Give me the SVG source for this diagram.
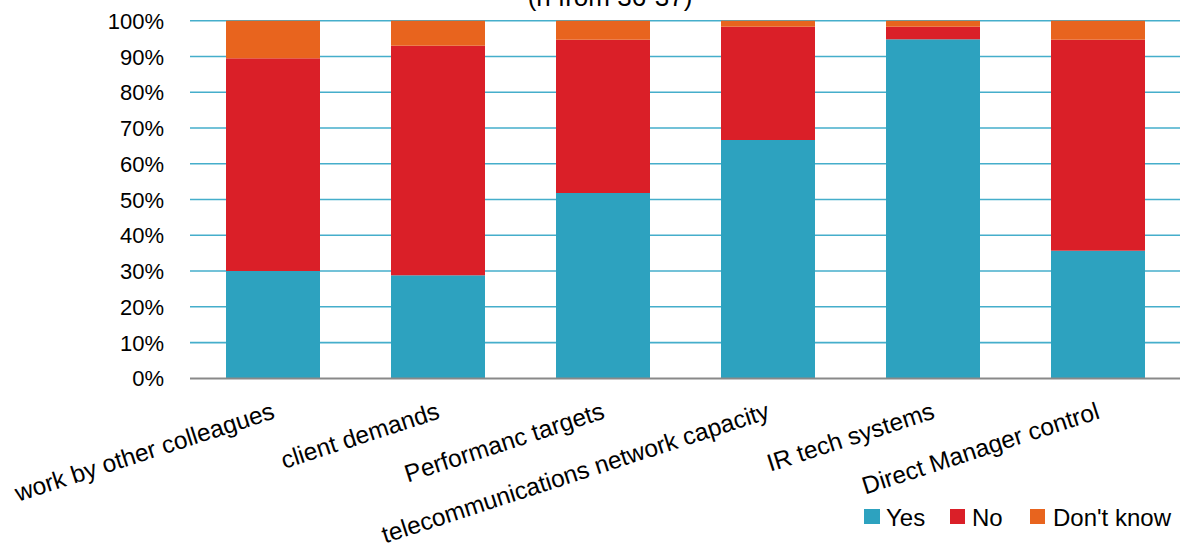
<svg xmlns="http://www.w3.org/2000/svg" width="1180" height="549" viewBox="0 0 1180 549">
<style>
text{font-family:"Liberation Sans",Arial,sans-serif;fill:#000}
.tick{font-size:22px;text-anchor:end}
.cat{font-size:24.5px;text-anchor:end}
.leg{font-size:24px}
.grid{stroke:#45aecb;stroke-width:1.6}
.yes{fill:#2da2bf}
.no{fill:#da1f28}
.dk{fill:#e8641e}
</style>
<rect width="1180" height="549" fill="#fff"/>
<text id="title" x="610" y="5.5" font-size="26" text-anchor="middle">(n from 36-37)</text>
<g id="gridlines">
<line class="grid" x1="190" y1="20.7" x2="1180" y2="20.7"/>
<line class="grid" x1="190" y1="56.5" x2="1180" y2="56.5"/>
<line class="grid" x1="190" y1="92.2" x2="1180" y2="92.2"/>
<line class="grid" x1="190" y1="128" x2="1180" y2="128"/>
<line class="grid" x1="190" y1="163.8" x2="1180" y2="163.8"/>
<line class="grid" x1="190" y1="199.5" x2="1180" y2="199.5"/>
<line class="grid" x1="190" y1="235.3" x2="1180" y2="235.3"/>
<line class="grid" x1="190" y1="271" x2="1180" y2="271"/>
<line class="grid" x1="190" y1="306.8" x2="1180" y2="306.8"/>
<line class="grid" x1="190" y1="342.6" x2="1180" y2="342.6"/>
</g>
<g id="y-axis-labels">
<text class="tick" x="164" y="28.7">100%</text>
<text class="tick" x="164" y="64.5">90%</text>
<text class="tick" x="164" y="100.2">80%</text>
<text class="tick" x="164" y="136">70%</text>
<text class="tick" x="164" y="171.8">60%</text>
<text class="tick" x="164" y="207.5">50%</text>
<text class="tick" x="164" y="243.3">40%</text>
<text class="tick" x="164" y="279">30%</text>
<text class="tick" x="164" y="314.8">20%</text>
<text class="tick" x="164" y="350.6">10%</text>
<text class="tick" x="164" y="386.4">0%</text>
</g>
<g id="bar-work-by-other-colleagues">
<rect class="yes" x="226" y="271" width="94" height="107.4"/>
<rect class="no" x="226" y="58.3" width="94" height="212.7"/>
<rect class="dk" x="226" y="20.7" width="94" height="37.6"/>
</g>
<g id="bar-client-demands">
<rect class="yes" x="391" y="275.3" width="94" height="103.1"/>
<rect class="no" x="391" y="45.7" width="94" height="229.6"/>
<rect class="dk" x="391" y="20.7" width="94" height="25"/>
</g>
<g id="bar-performanc-targets">
<rect class="yes" x="556" y="193" width="94" height="185.4"/>
<rect class="no" x="556" y="39.7" width="94" height="153.3"/>
<rect class="dk" x="556" y="20.7" width="94" height="19"/>
</g>
<g id="bar-telecommunications-network-capacity">
<rect class="yes" x="721" y="140" width="94" height="238.4"/>
<rect class="no" x="721" y="26.7" width="94" height="113.3"/>
<rect class="dk" x="721" y="20.7" width="94" height="6"/>
</g>
<g id="bar-ir-tech-systems">
<rect class="yes" x="886" y="39.3" width="94" height="339.1"/>
<rect class="no" x="886" y="26.7" width="94" height="12.6"/>
<rect class="dk" x="886" y="20.7" width="94" height="6"/>
</g>
<g id="bar-direct-manager-control">
<rect class="yes" x="1051" y="250.7" width="94" height="127.7"/>
<rect class="no" x="1051" y="39.7" width="94" height="211"/>
<rect class="dk" x="1051" y="20.7" width="94" height="19"/>
</g>
<line id="x-axis" x1="190" y1="378.4" x2="1180" y2="378.4" stroke="#898989" stroke-width="2"/>
<g id="category-labels">
<text class="cat" transform="translate(276,418) rotate(-18)">work by other colleagues</text>
<text class="cat" transform="translate(441,418) rotate(-18)">client demands</text>
<text class="cat" transform="translate(606,418) rotate(-18)">Performanc targets</text>
<text class="cat" transform="translate(771,418) rotate(-18)">telecommunications network capacity</text>
<text class="cat" transform="translate(936,418) rotate(-18)">IR tech systems</text>
<text class="cat" transform="translate(1101,418) rotate(-18)">Direct Manager control</text>
</g>
<g id="legend">
<rect class="yes" x="864" y="509" width="16" height="15"/>
<text class="leg" x="886" y="526">Yes</text>
<rect class="no" x="950" y="509" width="15" height="15"/>
<text class="leg" x="972" y="526">No</text>
<rect class="dk" x="1030" y="509" width="15" height="15"/>
<text class="leg" x="1053" y="526">Don't know</text>
</g>
</svg>
